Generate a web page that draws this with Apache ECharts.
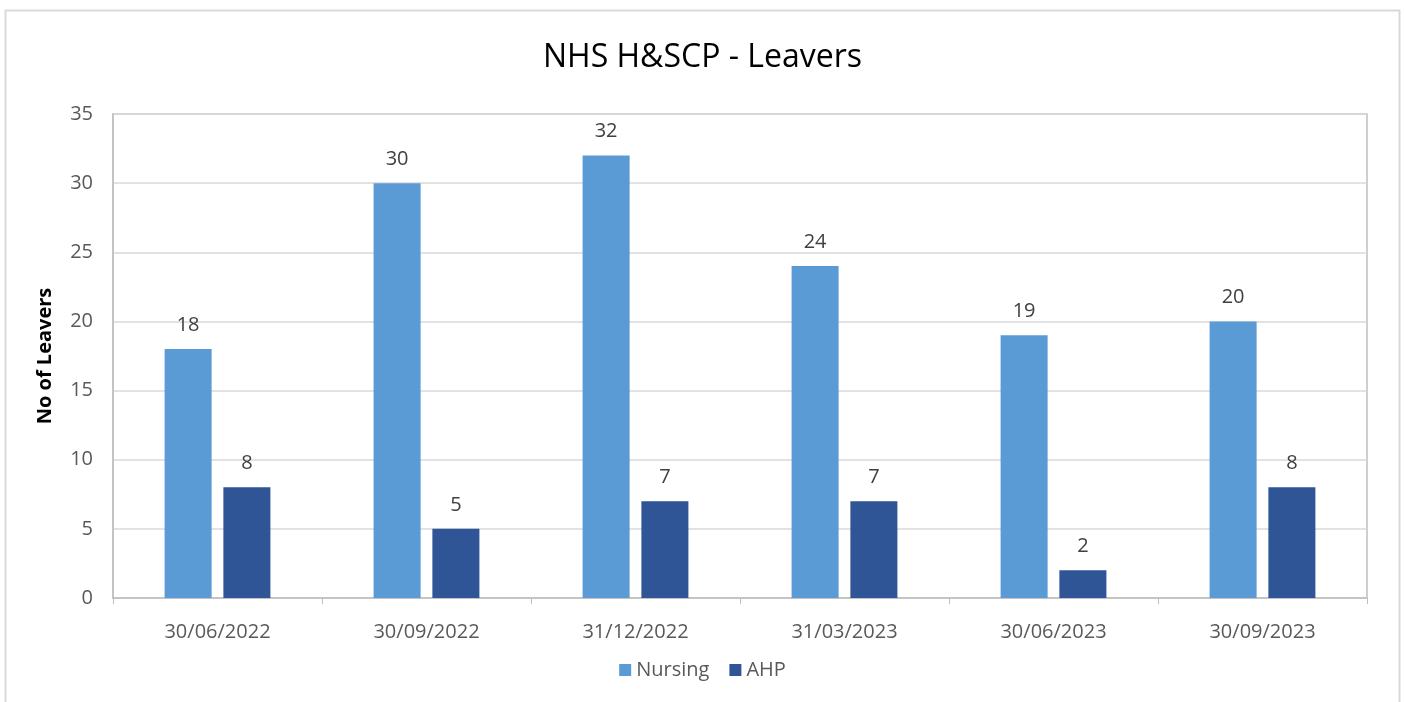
<!DOCTYPE html>
<html>
<head>
<meta charset="utf-8">
<script src="https://cdn.jsdelivr.net/npm/echarts@6/dist/echarts.min.js"></script>
<style>
  html, body { margin: 0; padding: 0; background: #ffffff; }
  #chart { width: 1405px; height: 702px; }
</style>
</head>
<body>
<div id="chart"></div>
<script>
// Quarter-end dates
const categories = ['30/06/2022', '30/09/2022', '31/12/2022', '31/03/2023', '30/06/2023', '30/09/2023'];
// Leavers per quarter
const nursing = [18, 30, 32, 24, 19, 20];
const ahp = [8, 5, 7, 7, 2, 8];
const yTicks = { min: 0, max: 35, interval: 5 };

const font = '"Open Sans", "Liberation Sans", sans-serif';
const chart = echarts.init(document.getElementById('chart'), null, { renderer: 'canvas' });

const labelStyle = {
  show: true,
  position: 'top',
  distance: 14,
  color: '#404040',
  fontFamily: font,
  fontSize: 20
};

chart.setOption({
  backgroundColor: '#ffffff',
  animation: false,
  title: {
    text: 'NHS H&SCP - Leavers',
    left: 'center',
    top: 37,
    textStyle: { fontFamily: font, fontSize: 32, fontWeight: 'normal', color: '#000000' }
  },
  graphic: [{
    type: 'rect',
    shape: { x: 5.5, y: 10.5, width: 1394, height: 700 },
    style: { fill: 'none', stroke: '#d9d9d9', lineWidth: 2 },
    silent: true
  }],
  legend: {
    bottom: 17,
    left: 'center',
    itemWidth: 12,
    itemHeight: 12,
    itemGap: 20,
    icon: 'rect',
    textStyle: { fontFamily: font, fontSize: 20, color: '#595959' },
    data: ['Nursing', 'AHP']
  },
  grid: {
    left: 113, right: 38, top: 114, bottom: 104,
    show: true,
    borderColor: '#bfbfbf',
    borderWidth: 1.5
  },
  xAxis: {
    type: 'category',
    data: categories,
    axisLine: { lineStyle: { color: '#bfbfbf', width: 1.5 } },
    axisTick: { show: true, alignWithLabel: false, length: 6, lineStyle: { color: '#bfbfbf' } },
    axisLabel: { fontFamily: font, fontSize: 20, color: '#595959', margin: 24 }
  },
  yAxis: {
    type: 'value',
    min: yTicks.min,
    max: yTicks.max,
    interval: yTicks.interval,
    name: 'No of Leavers',
    nameLocation: 'middle',
    nameGap: 58,
    nameTextStyle: { fontFamily: font, fontSize: 20, fontWeight: 'bold', color: '#000000' },
    axisLine: { show: true, lineStyle: { color: '#bfbfbf', width: 1.5 } },
    axisTick: { show: false },
    axisLabel: { fontFamily: font, fontSize: 20, color: '#595959', margin: 20 },
    splitLine: { lineStyle: { color: '#d9d9d9', width: 1.5 } }
  },
  series: [
    {
      name: 'Nursing',
      type: 'bar',
      data: nursing,
      barWidth: '22.5%',
      barGap: '25%',
      itemStyle: { color: '#5b9bd5' },
      label: labelStyle
    },
    {
      name: 'AHP',
      type: 'bar',
      data: ahp,
      barWidth: '22.5%',
      barGap: '25%',
      itemStyle: { color: '#2f5597' },
      label: labelStyle
    }
  ]
});
</script>
</body>
</html>
